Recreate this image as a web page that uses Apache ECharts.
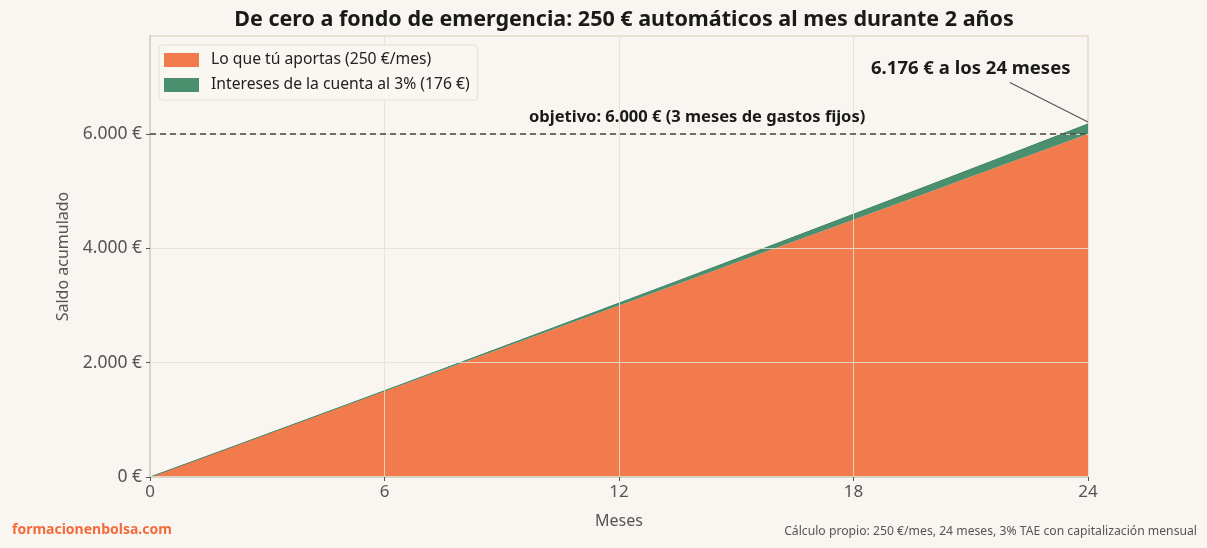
<!DOCTYPE html>
<html>
<head>
<meta charset="utf-8">
<script src="https://cdn.jsdelivr.net/npm/echarts@6/dist/echarts.min.js"></script>
<style>
  html, body { margin: 0; padding: 0; background: #f9f6f1; }
  #chart { width: 1207px; height: 548px; }
</style>
</head>
<body>
<div id="chart"></div>
<script>
// meses y saldo
var meses = ['0','1','2','3','4','5','6','7','8','9','10','11','12','13','14','15','16','17','18','19','20','21','22','23','24'];
var aportado = [0,250,500,750,1000,1250,1500,1750,2000,2250,2500,2750,3000,3250,3500,3750,4000,4250,4500,4750,5000,5250,5500,5750,6000];
var intereses = [0,0,0.6,1.9,3.8,6.3,9.4,13.2,17.6,22.6,28.3,34.6,41.6,49.2,57.4,66.3,75.9,86.1,96.9,108.4,120.5,133.3,146.8,160.9,175.7];
var yTicks = [0, 2000, 4000, 6000];
var objetivo = 6000;
var saldoFinal = 6176;

var FONT = 'Noto Sans';
var fmtEur = function (v) {
  return String(v).replace(/\B(?=(\d{3})+(?!\d))/g, '.') + ' €';
};
var cada6 = function (i) { return i % 6 === 0; };

var chart = echarts.init(document.getElementById('chart'));

var option = {
  backgroundColor: '#f9f6f1',
  textStyle: { fontFamily: FONT },
  title: [
    {
      text: 'De cero a fondo de emergencia: 250 € automáticos al mes durante 2 años',
      left: 619, top: 4, textAlign: 'center',
      textStyle: { fontFamily: FONT, fontSize: 21.5, fontWeight: 'bold', color: '#1a1a1a' }
    },
    {
      text: 'formacionenbolsa.com',
      left: 7, top: 518,
      textStyle: { fontFamily: FONT, fontSize: 14, fontWeight: 'bold', color: '#f26b3a' }
    },
    {
      text: 'Cálculo propio: 250 €/mes, 24 meses, 3% TAE con capitalización mensual',
      right: 5, top: 521,
      textStyle: { fontFamily: FONT, fontSize: 12.2, fontWeight: 'normal', color: '#555' }
    }
  ],
  legend: {
    left: 159, top: 45,
    orient: 'vertical',
    itemWidth: 35, itemHeight: 14, itemGap: 9,
    padding: [7, 8, 7, 5],
    backgroundColor: 'rgba(249,246,241,0.9)',
    borderColor: '#e6dfd3', borderWidth: 1, borderRadius: 4,
    textStyle: { fontFamily: FONT, fontSize: 15.7, color: '#222', padding: [0, 0, 0, 7] },
    data: [
      { name: 'Lo que tú aportas (250 €/mes)', icon: 'rect' },
      { name: 'Intereses de la cuenta al 3% (176 €)', icon: 'rect' }
    ]
  },
  grid: {
    left: 150, right: 119, top: 36, bottom: 71,
    show: true, borderColor: '#e2d9cb', borderWidth: 1.5
  },
  xAxis: {
    type: 'category', data: meses, boundaryGap: false, z: 3,
    name: 'Meses', nameLocation: 'middle', nameGap: 36,
    nameTextStyle: { fontFamily: FONT, fontSize: 16, color: '#555' },
    axisLine: { lineStyle: { color: '#ddd3c3', width: 2 } },
    axisTick: { show: true, length: 4, interval: cada6, lineStyle: { color: '#555' } },
    axisLabel: { fontFamily: FONT, fontSize: 17, color: '#555', margin: 7, interval: cada6 },
    splitLine: { show: true, interval: cada6, lineStyle: { color: 'rgba(232,224,210,0.85)', width: 1 } }
  },
  yAxis: {
    type: 'value', min: 0, max: 7714, interval: 2000, z: 3,
    name: 'Saldo acumulado', nameLocation: 'middle', nameGap: 76, nameRotate: 90,
    nameTextStyle: { fontFamily: FONT, fontSize: 16, color: '#555' },
    axisLine: { show: true, lineStyle: { color: '#ddd3c3', width: 2 } },
    axisTick: { show: true, length: 4, lineStyle: { color: '#555' } },
    axisLabel: {
      fontFamily: FONT, fontSize: 17.5, color: '#555', margin: 8,
      showMaxLabel: false,
      formatter: function (v) { return yTicks.indexOf(v) >= 0 ? fmtEur(v) : ''; }
    },
    splitLine: { show: true, lineStyle: { color: 'rgba(232,224,210,0.85)', width: 1 } }
  },
  series: [
    {
      name: 'Lo que tú aportas (250 €/mes)',
      type: 'line', stack: 'saldo', symbol: 'none',
      color: '#f27b4e',
      lineStyle: { width: 0 },
      areaStyle: { color: '#f27b4e', opacity: 1 },
      data: aportado,
      markLine: {
        silent: true, symbol: 'none',
        lineStyle: { color: '#444', type: [6, 4], width: 1.5 },
        label: { show: false },
        data: [{ yAxis: objetivo }]
      },
      z: 2
    },
    {
      name: 'Intereses de la cuenta al 3% (176 €)',
      type: 'line', stack: 'saldo', symbol: 'none',
      color: '#4a8f6e',
      lineStyle: { width: 1, color: '#3f8463' },
      areaStyle: { color: '#4a8f6e', opacity: 1 },
      data: intereses,
      markLine: {
        silent: true, symbol: 'none',
        lineStyle: { color: '#555', type: 'solid', width: 1.2 },
        label: { show: false },
        data: [[{ coord: [21.5, 6900] }, { coord: [24, 6210] }]]
      },
      markPoint: {
        silent: true, symbol: 'circle', symbolSize: 0,
        data: [
          {
            coord: [14, 6300],
            label: {
              show: true, formatter: 'objetivo: ' + fmtEur(objetivo) + ' (3 meses de gastos fijos)',
              fontFamily: FONT, fontSize: 16.5, fontWeight: 'bold', color: '#1a1a1a'
            }
          },
          {
            coord: [21.05, 7150],
            label: {
              show: true, formatter: fmtEur(saldoFinal) + ' a los 24 meses',
              fontFamily: FONT, fontSize: 18.5, fontWeight: 'bold', color: '#1a1a1a'
            }
          }
        ]
      },
      z: 2
    }
  ]
};

chart.setOption(option);
</script>
</body>
</html>
